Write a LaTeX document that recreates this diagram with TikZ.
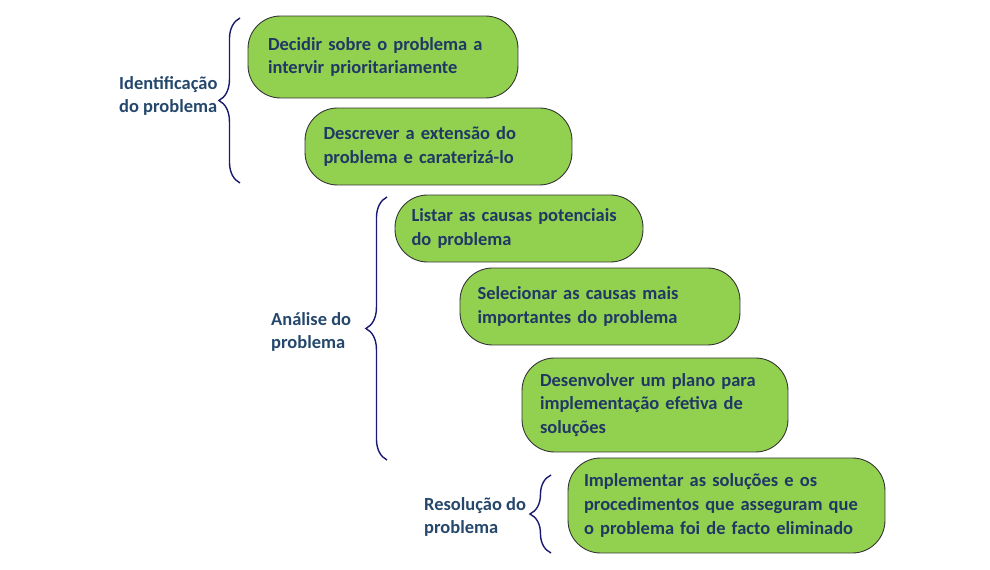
\documentclass[tikz,border=0pt]{standalone}
\usepackage{fontspec}
\setmainfont{Carlito}
\usetikzlibrary{decorations.pathreplacing}
\definecolor{boxgreen}{HTML}{92D050}
\definecolor{txtblue}{HTML}{1F3864}
\definecolor{lblblue}{HTML}{24476B}
\definecolor{bracenavy}{HTML}{1A1A70}
\tikzset{
  stepbox/.style={draw=black!80, line width=0.5pt, fill=boxgreen, rounded corners=0.65cm,
    font=\bfseries\fontsize{10.5}{13.5}\selectfont, text=txtblue, align=left, inner sep=0pt},
  phaselabel/.style={font=\bfseries\fontsize{10.5}{13.5}\selectfont, text=lblblue, align=left, anchor=west},
  phasebrace/.style={draw=bracenavy, line width=0.8pt, decorate, decoration={brace, amplitude=12pt}}
}
\begin{document}
\begin{tikzpicture}[x=0.02cm,y=-0.02cm]
  \useasboundingbox (0,0) rectangle (990,570);

  % steps
  \node [stepbox, minimum width=5.4cm, minimum height=1.64cm, text width=4.6cm] (decidir) at (383,57) {Decidir sobre o problema a\\intervir prioritariamente};
  \node [stepbox, minimum width=5.34cm, minimum height=1.54cm, text width=4.6cm] (descrever) at (438.5,146.5) {Descrever a extensão do\\problema e caraterizá-lo};
  \node [stepbox, minimum width=4.96cm, minimum height=1.34cm, text width=4.3cm] (listar) at (519,228.5) {Listar as causas potenciais\\do problema};
  \node [stepbox, minimum width=5.6cm, minimum height=1.54cm, text width=4.9cm] (selecionar) at (600,306.5) {Selecionar as causas mais\\importantes do problema};
  \node [stepbox, minimum width=5.32cm, minimum height=1.88cm, text width=4.6cm] (plano) at (655,405) {Desenvolver um plano para\\implementação efetiva de\\soluções};
  \node [stepbox, minimum width=6.34cm, minimum height=1.9cm, text width=5.7cm] (implementar) at (726.5,505.5) {Implementar as soluções e os\\procedimentos que asseguram que\\o problema foi de facto eliminado};

  % phases
  \coordinate (idtop) at (240,18);
  \coordinate (idbot) at (240,183);
  \coordinate (antop) at (387,197);
  \coordinate (anbot) at (387,460);
  \coordinate (retop) at (551,475);
  \coordinate (rebot) at (551,553);
  \draw [phasebrace] (idbot) -- (idtop);
  \draw [phasebrace] (anbot) -- (antop);
  \draw [phasebrace] (rebot) -- (retop);

  \node [phaselabel] (identificacao) at (113,96) {Identificação\\do problema};
  \node [phaselabel] (analise) at (265,332) {Análise do\\problema};
  \node [phaselabel] (resolucao) at (418,517) {Resolução do\\problema};
\end{tikzpicture}
\end{document}
